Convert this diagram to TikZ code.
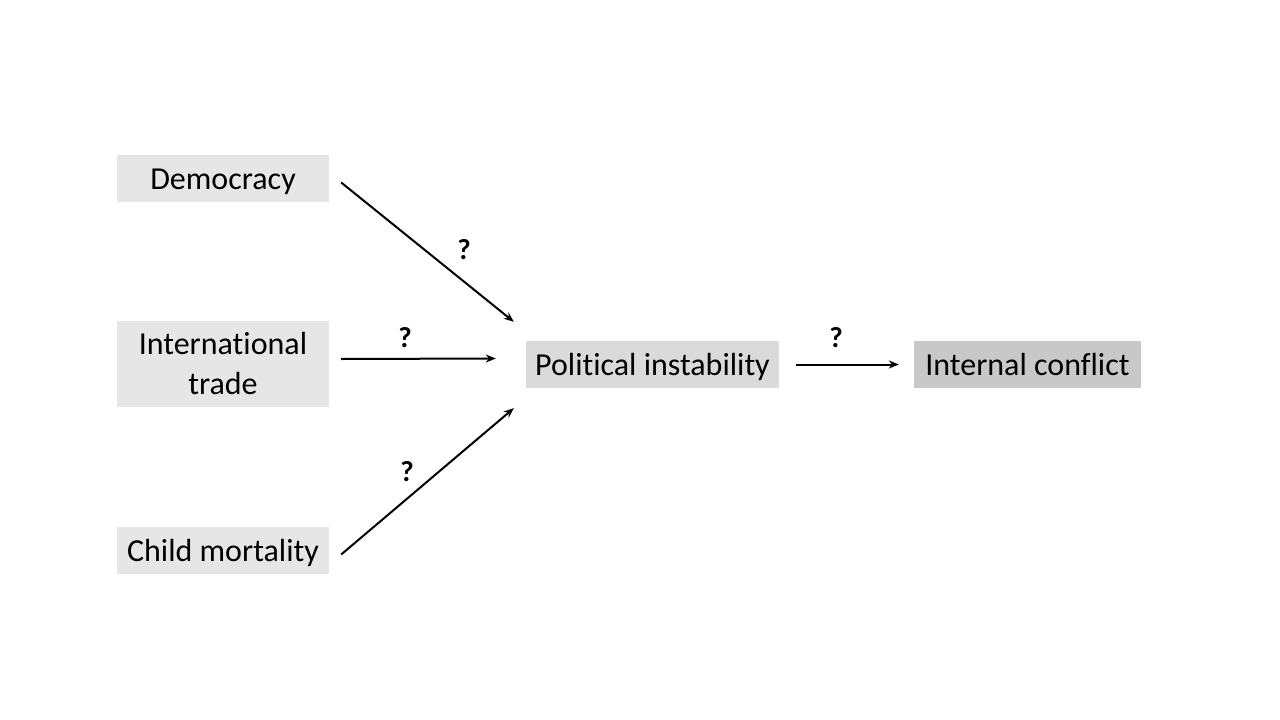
\documentclass[tikz,border=0pt]{standalone}
\usepackage{fontspec}
\setmainfont{Carlito}[Ligatures={NoCommon}]
\usetikzlibrary{arrows.meta}
\definecolor{lightbox}{RGB}{231,230,230}
\definecolor{midbox}{RGB}{218,218,218}
\definecolor{darkbox}{RGB}{200,200,200}
\newcommand{\nolig}{\kern0pt\relax}
\begin{document}
\begin{tikzpicture}[x=1pt,y=-1pt,
  box/.style={fill=#1, draw=none, inner sep=0pt, align=center,
    font=\fontsize{32}{40}\selectfont},
  oneline/.style={text height=23pt, text depth=2pt},
  conn/.style={line width=2pt, -{Stealth[length=10pt,width=8pt]}},
  qmark/.style={font=\fontsize{29}{34}\selectfont\bfseries, inner sep=0pt}]
\useasboundingbox (0,0) rectangle (1280,720);
\node[box=lightbox, oneline, minimum width=212pt, minimum height=47pt] (dem) at (223,178.5) {Democracy};
\node[box=lightbox, minimum width=212pt, minimum height=86pt] (trade) at (223,364) {Internat\nolig ional\\trade};
\node[box=lightbox, oneline, minimum width=212pt, minimum height=47pt] (child) at (223,550.5) {Child mortality};
\node[box=midbox, oneline, minimum width=253pt, minimum height=47pt] (pi) at (652.5,364.5) {Polit\nolig ical instability};
\node[box=darkbox, oneline, minimum width=227pt, minimum height=47pt] (ic) at (1027.5,364.5) {Internal conf\nolig lict};
\coordinate (piA) at ([shift={(-12,-19)}]pi.north west);
\coordinate (piB) at ([shift={(-30,-6)}]pi.west);
\coordinate (piC) at ([shift={(-12,20)}]pi.south west);
\draw[conn] ([shift={(12,4)}]dem.east) -- (piA);
\draw[conn] ([shift={(12,-5)}]trade.east) -- (piB);
\draw[conn] ([shift={(12,4)}]child.east) -- (piC);
\draw[conn] ([xshift=17pt]pi.east) -- ([xshift=-15pt]ic.west);
\node[qmark] (q1) at (464,250) {?};
\node[qmark] (q2) at (405,338) {?};
\node[qmark] (q3) at (407,472) {?};
\node[qmark] (q4) at (836,338) {?};
\end{tikzpicture}
\end{document}
